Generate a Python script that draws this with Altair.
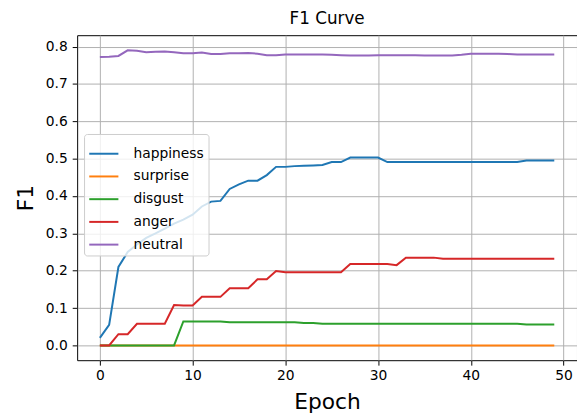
import altair as alt
import pandas as pd

epochs = list(range(50))

series_names = ["happiness", "surprise", "disgust", "anger", "neutral"]
series_colors = ["#1f77b4", "#ff7f0e", "#2ca02c", "#d62728", "#9467bd"]

happiness = [0.02, 0.055, 0.21, 0.25, 0.27, 0.288, 0.30, 0.313, 0.326, 0.337,
             0.35, 0.372, 0.385, 0.387, 0.419, 0.431, 0.441, 0.441, 0.456, 0.478,
             0.478, 0.48, 0.481, 0.482, 0.483, 0.491, 0.491, 0.503, 0.503, 0.503,
             0.503, 0.491, 0.491, 0.491, 0.491, 0.491, 0.491, 0.491, 0.491, 0.491,
             0.491, 0.491, 0.491, 0.491, 0.491, 0.491, 0.495, 0.495, 0.495, 0.495]
surprise = [0.0] * 50
disgust = [0, 0, 0, 0, 0, 0, 0, 0, 0, 0.064,
           0.064, 0.064, 0.064, 0.064, 0.062, 0.062, 0.062, 0.062, 0.062, 0.062,
           0.062, 0.062, 0.06, 0.06, 0.058, 0.058, 0.058, 0.058, 0.058, 0.058,
           0.058, 0.058, 0.058, 0.058, 0.058, 0.058, 0.058, 0.058, 0.058, 0.058,
           0.058, 0.058, 0.058, 0.058, 0.058, 0.058, 0.056, 0.056, 0.056, 0.056]
anger = [0, 0, 0.03, 0.03, 0.058, 0.058, 0.058, 0.058, 0.108, 0.107,
         0.107, 0.13, 0.13, 0.13, 0.153, 0.153, 0.153, 0.177, 0.177, 0.199,
         0.196, 0.196, 0.196, 0.196, 0.196, 0.196, 0.196, 0.218, 0.218, 0.218,
         0.218, 0.218, 0.215, 0.235, 0.235, 0.235, 0.235, 0.232, 0.232, 0.232,
         0.232, 0.232, 0.232, 0.232, 0.232, 0.232, 0.232, 0.232, 0.232, 0.232]
neutral = [0.772, 0.773, 0.775, 0.790, 0.789, 0.785, 0.786, 0.787, 0.785, 0.782,
           0.782, 0.784, 0.780, 0.780, 0.782, 0.782, 0.783, 0.781, 0.777, 0.777,
           0.779, 0.779, 0.779, 0.779, 0.779, 0.778, 0.777, 0.776, 0.776, 0.776,
           0.777, 0.777, 0.777, 0.777, 0.777, 0.776, 0.776, 0.776, 0.776, 0.778,
           0.781, 0.781, 0.781, 0.781, 0.780, 0.779, 0.779, 0.779, 0.779, 0.779]

x_ticks = [0, 10, 20, 30, 40, 50]
y_ticks = [0.0, 0.1, 0.2, 0.3, 0.4, 0.5, 0.6, 0.7, 0.8]

rows = []
for name, vals in zip(series_names, [happiness, surprise, disgust, anger, neutral]):
    for e, v in zip(epochs, vals):
        rows.append({"epoch": e, "f1": v, "emotion": name})
df = pd.DataFrame(rows)

FONT = "DejaVu Sans"

chart = alt.Chart(df).mark_line(strokeWidth=2).encode(
    x=alt.X("epoch:Q",
            scale=alt.Scale(domain=[-2.45, 51.45], nice=False, zero=False),
            axis=alt.Axis(values=x_ticks, title="Epoch", grid=True,
                          gridColor="#b0b0b0", gridWidth=1, domain=False,
                          tickSize=5, tickColor="black", tickWidth=1,
                          labelFontSize=14, labelColor="black", labelFont=FONT,
                          labelPadding=4, labelFlush=False,
                          titleFontSize=22, titleFontWeight="normal",
                          titleColor="black", titleFont=FONT, titlePadding=9)),
    y=alt.Y("f1:Q",
            scale=alt.Scale(domain=[-0.0396, 0.8306], nice=False, zero=False),
            axis=alt.Axis(values=y_ticks, format=".1f", title="F1", grid=True,
                          gridColor="#b0b0b0", gridWidth=1, domain=False,
                          tickSize=5, tickColor="black", tickWidth=1,
                          labelFontSize=14, labelColor="black", labelFont=FONT,
                          labelPadding=5, labelFlush=False,
                          titleFontSize=22, titleFontWeight="normal",
                          titleColor="black", titleFont=FONT, titlePadding=8)),
    color=alt.Color("emotion:N",
                    scale=alt.Scale(domain=series_names, range=series_colors),
                    title=None,
                    legend=alt.Legend(orient="none", legendX=7, legendY=100,
                                      symbolType="stroke", symbolSize=870,
                                      symbolStrokeWidth=2,
                                      labelFontSize=14, labelFont=FONT,
                                      labelColor="black", labelOffset=14,
                                      fillColor="rgba(255,255,255,0.8)",
                                      strokeColor="#cccccc", cornerRadius=3,
                                      padding=4, rowPadding=0)),
).properties(
    width=506,
    height=329,
    title=alt.TitleParams("F1 Curve", fontSize=17, fontWeight="normal",
                          font=FONT, color="black", anchor="middle",
                          frame="group", baseline="alphabetic", offset=8, dy=14),
    autosize=alt.AutoSizeParams(type="none"),
    padding={"left": 70, "top": 25, "right": 0, "bottom": 57},
).configure_view(
    stroke="black", strokeWidth=1
)

chart.save("out.html", embed_options={"renderer": "svg", "actions": False})
